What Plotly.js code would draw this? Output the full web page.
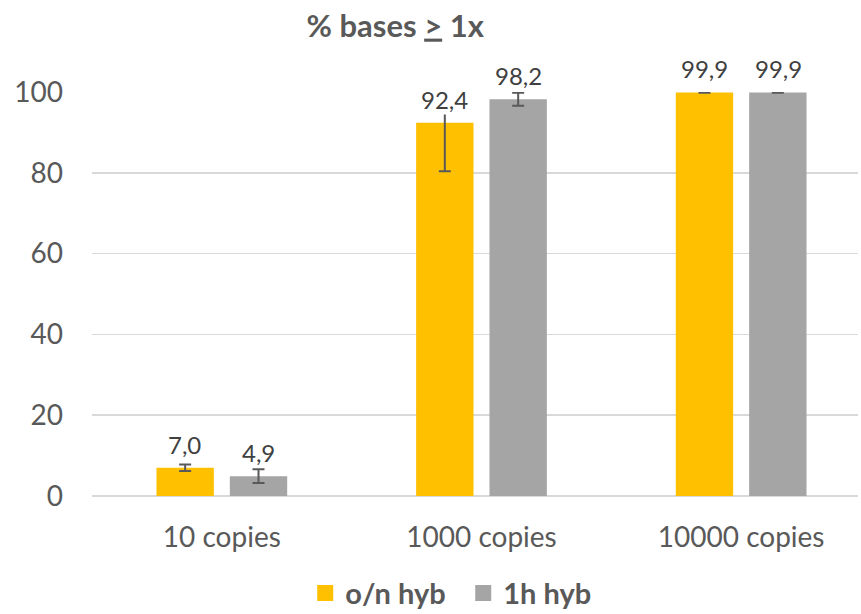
<!DOCTYPE html>
<html>
<head>
<meta charset="utf-8">
<script src="https://cdn.plot.ly/plotly-3.0.1.min.js"></script>
<style>html,body{margin:0;padding:0;background:#fff;}#chart{width:861px;height:614px;}</style>
</head>
<body>
<div id="chart"></div>
<script>
// ---- data ----
const categories = ["10 copies", "1000 copies", "10000 copies"];
const seriesNames = ["o/n hyb", "1h hyb"];
const onHyb = [7.0, 92.4, 99.9];
const onHybErr = [0.8, 12.0, 0.1];
const oneHHyb = [4.9, 98.2, 99.9];
const oneHHybErr = [1.7, 1.6, 0.1];
const yTicks = [0, 20, 40, 60, 80, 100];

const fmt = v => v.toFixed(1).replace(".", ",");
const TXT = "#595959";
const FONT = "Lato, 'Open Sans', sans-serif";
const colors = ["#FFC000", "#A5A5A5"];
const series = [onHyb, oneHHyb];
const errs = [onHybErr, oneHHybErr];

const traces = series.map((vals, s) => ({
  type: "bar",
  x: categories,
  y: vals,
  name: seriesNames[s],
  showlegend: false,
  marker: {color: colors[s]},
  error_y: {type: "data", array: errs[s], visible: true, color: "#595959", thickness: 2, width: 6},
  hoverinfo: "skip"
}));
// legend swatches
series.forEach((vals, s) => traces.push({
  type: "scatter", mode: "markers", x: [null], y: [null],
  name: "<b>" + seriesNames[s] + "</b>",
  marker: {symbol: "square", size: 16, color: colors[s]}
}));

const offsets = [-0.142, 0.142];
const annotations = [];
series.forEach((vals, s) => vals.forEach((v, i) => annotations.push({
  xref: "x", yref: "y", x: i + offsets[s], y: v, yanchor: "bottom",
  yshift: 8, text: fmt(v), showarrow: false, bgcolor: "#ffffff", borderpad: 0,
  font: {family: FONT, size: 24, color: "#404040"}
})));

const layout = {
  width: 861, height: 614,
  margin: {l: 92, r: 3, t: 92, b: 118},
  paper_bgcolor: "#fff", plot_bgcolor: "#fff",
  title: {
    text: "<b>% bases <span style=\"text-decoration:underline\">&gt;</span> 1x</b>",
    x: 0.459, xanchor: "center", y: 0.958, yanchor: "middle",
    font: {family: FONT, size: 31, color: TXT}
  },
  barmode: "group", bargap: 0.435, bargroupgap: 0.218,
  xaxis: {
    type: "category", range: [-0.5, 2.45], showgrid: false, zeroline: false,
    showline: false, ticks: "", ticklabelstandoff: 22, automargin: false,
    tickfont: {family: FONT, size: 28, color: TXT}
  },
  yaxis: {
    range: [0, 100], tickvals: yTicks, showgrid: true, gridcolor: "#d9d9d9", gridwidth: 1.5,
    zeroline: true, zerolinecolor: "#d9d9d9", zerolinewidth: 1.5, showline: false, ticks: "",
    ticklabelstandoff: 28, automargin: false, tickfont: {family: FONT, size: 28, color: TXT}
  },
  showlegend: true,
  legend: {
    orientation: "h", xref: "container", yref: "container",
    x: 0.538, xanchor: "center", y: 0.034, yanchor: "middle",
    font: {family: FONT, size: 29, color: TXT}, itemwidth: 30, entrywidth: 113
  },
  annotations: annotations
};

Plotly.newPlot("chart", traces, layout, {staticPlot: true});
</script>
</body>
</html>
